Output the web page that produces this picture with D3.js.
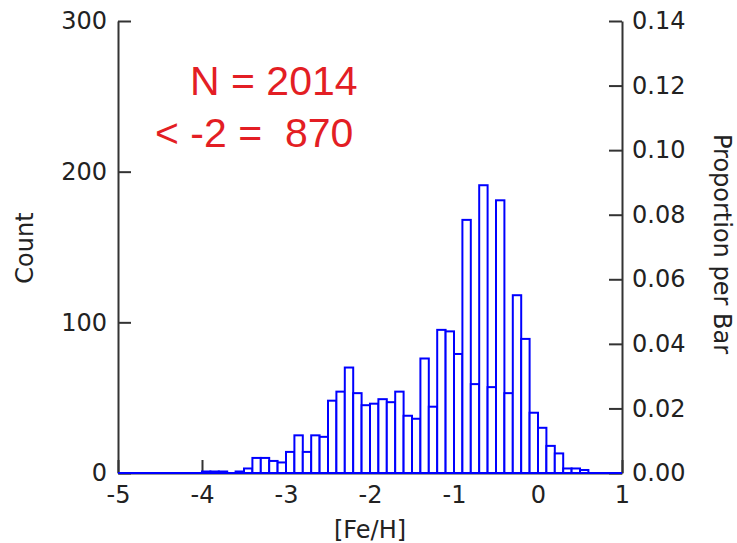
<!DOCTYPE html>
<html>
<head>
<meta charset="utf-8">
<script src="https://cdn.jsdelivr.net/npm/d3@7"></script>
<style>
  body { margin: 0; background: #fff; }
  text { font-family: "DejaVu Sans", sans-serif; }
</style>
</head>
<body>
<script>
// lower edge of each 0.1 dex bin, and its count
const binLow = [-4.0, -3.9, -3.8, -3.7, -3.6, -3.5, -3.4, -3.3, -3.2, -3.1,
                -3.0, -2.9, -2.8, -2.7, -2.6, -2.5, -2.4, -2.3, -2.2, -2.1,
                -2.0, -1.9, -1.8, -1.7, -1.6, -1.5, -1.4, -1.3, -1.2, -1.1,
                -1.0, -0.9, -0.8, -0.7, -0.6, -0.5, -0.4, -0.3, -0.2, -0.1,
                 0.0,  0.1,  0.2,  0.3,  0.4,  0.5];
const counts = [1, 1, 1, 0, 1, 3, 10, 10, 8, 7,
                14, 25, 14, 25, 24, 48, 54, 70, 53, 45,
                46, 49, 47, 54, 38, 36, 76, 44, 95, 94,
                79, 168, 59, 191, 57, 181, 53, 118, 89, 40,
                30, 18, 13, 3, 3, 2];
const binWidth = 0.1;

const xTicks = [-5, -4, -3, -2, -1, 0, 1];
const countTicks = [0, 100, 200, 300];
const propTicks = [0, 0.02, 0.04, 0.06, 0.08, 0.10, 0.12, 0.14];
const notes = ["N = 2014", "< -2 =  870"];

let bins = binLow.map((d, i) => ({lo: d, n: counts[i]}));

//svg
let viz = d3.select("body").append("svg")
              .attr("width", 737)
              .attr("height", 543);

let x = d3.scaleLinear().domain([-5, 1]).range([118, 622]);
let y = d3.scaleLinear().domain([0, 300]).range([473, 21]);
let yProp = d3.scaleLinear().domain([0, 0.14]).range([473, 21]);

//axes first so the bars sit on top of the inward ticks
function styleAxis(g){
  g.selectAll("path, line").attr("stroke", "#333").attr("stroke-width", 2);
  g.selectAll("text").attr("fill", "#222").attr("font-size", 24)
    .style("font-family", "DejaVu Sans, sans-serif");
}

viz.append("g")
    .attr("transform", "translate(0,473)")
    .call(d3.axisBottom(x).tickValues(xTicks).tickFormat(d => String(d))
            .tickSizeInner(-13).tickSizeOuter(0).tickPadding(13))
    .call(styleAxis);

viz.append("g")
    .attr("transform", "translate(118,0)")
    .call(d3.axisLeft(y).tickValues(countTicks)
            .tickSizeInner(-13).tickSizeOuter(0).tickPadding(11))
    .call(styleAxis);

viz.append("g")
    .attr("transform", "translate(622,0)")
    .call(d3.axisRight(yProp).tickValues(propTicks).tickFormat(d3.format(".2f"))
            .tickSizeInner(-13).tickSizeOuter(0).tickPadding(10))
    .call(styleAxis);

//empty bins show up as a flat blue line along the bottom
viz.append("line")
    .attr("x1", x(-5)).attr("x2", x(1))
    .attr("y1", y(0)).attr("y2", y(0))
    .attr("stroke", "#0000ff")
    .attr("stroke-width", 2);

viz.selectAll(".bar").data(bins)
    .enter()
      .append("rect")
      .attr("class", "bar")
      .attr("x", d => x(d.lo))
      .attr("width", d => x(d.lo + binWidth) - x(d.lo))
      .attr("y", d => y(d.n))
      .attr("height", d => y(0) - y(d.n))
      .attr("fill", "#fff")
      .attr("stroke", "#0000ff")
      .attr("stroke-width", 2);

//axis titles
viz.append("text")
    .text("[Fe/H]")
    .attr("x", (x(-5) + x(1)) / 2)
    .attr("y", 538)
    .attr("text-anchor", "middle")
    .attr("font-size", 24)
    .attr("fill", "#222");

viz.append("text")
    .text("Count")
    .attr("transform", "translate(33,248) rotate(-90)")
    .attr("text-anchor", "middle")
    .attr("font-size", 24)
    .attr("fill", "#222");

viz.append("text")
    .text("Proportion per Bar")
    .attr("transform", "translate(714,244) rotate(90)")
    .attr("text-anchor", "middle")
    .attr("font-size", 24)
    .attr("fill", "#222");

//red notes
viz.selectAll(".note").data(notes)
    .enter()
      .append("text")
      .attr("class", "note")
      .text(d => d)
      .attr("x", (d, i) => i == 0 ? 190 : 155)
      .attr("y", (d, i) => i == 0 ? 95 : 147)
      .attr("font-size", 41)
      .attr("fill", "#e31e24")
      .style("font-family", "'Liberation Sans', Arial, sans-serif")
      .style("white-space", "pre");
</script>
</body>
</html>
